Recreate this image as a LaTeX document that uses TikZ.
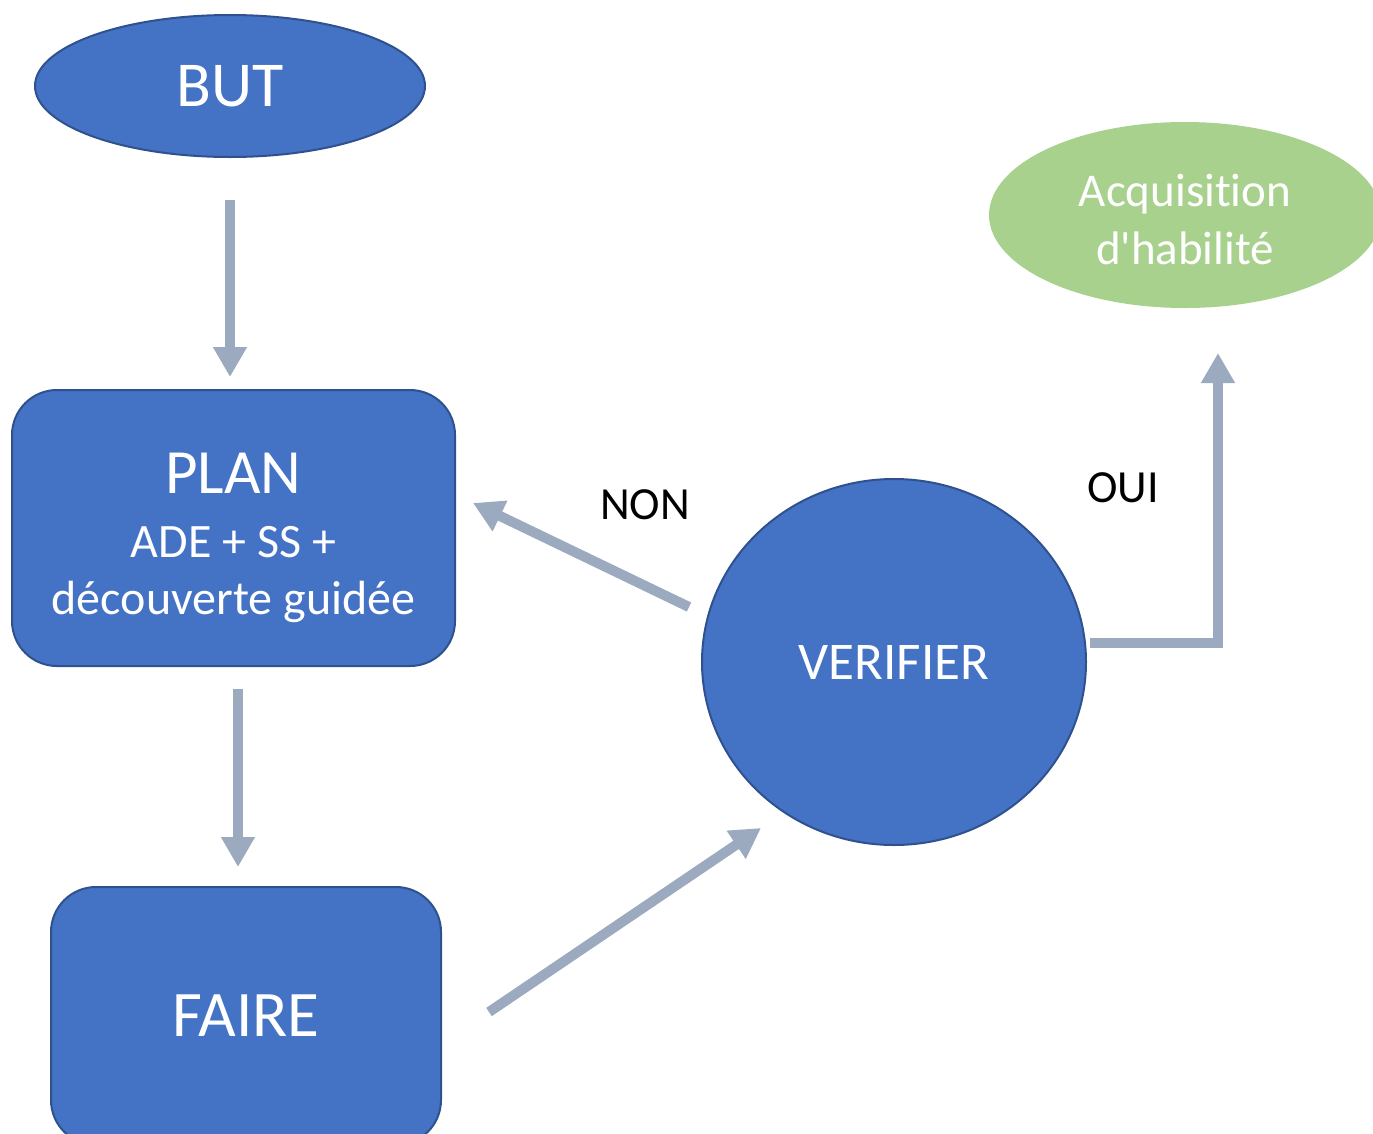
\documentclass[tikz,border=0pt]{standalone}
\usepackage{fontspec}
\setmainfont{Carlito}[Ligatures={TeX,NoCommon}]
\usetikzlibrary{arrows.meta,shapes.geometric}
\definecolor{boxblue}{RGB}{68,114,196}
\definecolor{boxedge}{RGB}{47,82,143}
\definecolor{flowgray}{RGB}{155,170,191}
\definecolor{goalgreen}{RGB}{169,209,142}

\begin{document}
\begin{tikzpicture}[x=1pt, y=-1pt,
    blob/.style={ellipse, draw=boxedge, line width=2pt, fill=boxblue, text=white, inner sep=0pt},
    card/.style={rectangle, rounded corners=45pt, draw=boxedge, line width=2pt, fill=boxblue, text=white, align=center, inner sep=0pt},
    flow/.style={draw=flowgray, line width=10pt, -{Triangle[width=32pt, length=30pt]}},
    answer/.style={text=black, font=\fontsize{46}{50}\selectfont}
]
    \useasboundingbox (0,0) rectangle (1373,1133);
    \clip (0,0) rectangle (1373,1133);

    \node[blob, minimum width=390pt, minimum height=142pt, font=\fontsize{64}{70}\selectfont] (but) at (230,86) {BUT};
    \node[card, minimum width=443pt, minimum height=276pt, text height=181pt, font=\fontsize{48}{57}\selectfont] (plan) at (233.5,528)
        {{\fontsize{63}{64}\selectfont PLAN}\\[7pt]ADE + SS +\\découverte guidée};
    \node[card, minimum width=390pt, minimum height=258pt, font=\fontsize{65}{70}\selectfont] (faire) at (246,1016) {FAIRE};
    \node[blob, minimum width=384pt, minimum height=366pt, font=\fontsize{53}{60}\selectfont] (verif) at (894,662) {VERIFIER};
    \node[ellipse, fill=goalgreen, text=white, align=center, inner sep=0pt, minimum width=392pt, minimum height=186pt,
        text height=100pt, font=\fontsize{47}{58}\selectfont] (acq) at (1185,215) {Acquisition\\d\textquotesingle habilité};

    \node[answer] (non) at (645,505) {NON};
    \node[answer] (oui) at (1123,488) {OUI};

    % free ends of the connectors
    \coordinate (nonA) at (689,607);
    \coordinate (nonB) at (473,503);
    \coordinate (doA) at (489,1012);
    \coordinate (doB) at (761,828);
    \coordinate (ouiA) at (1090,643);
    \coordinate (ouiB) at (1218,353);

    \draw[flow, shorten <=42pt, shorten >=12pt] (but.south) -- (but.south |- plan.north);
    \draw[flow, shorten <=22pt, shorten >=19pt] ([xshift=4.5pt]plan.south) -- ([xshift=4.5pt]plan.south |- faire.north);
    \draw[flow] (nonA) -- (nonB);
    \draw[flow] (doA) -- (doB);
    \draw[flow] (ouiA) -| (ouiB);
\end{tikzpicture}
\end{document}
